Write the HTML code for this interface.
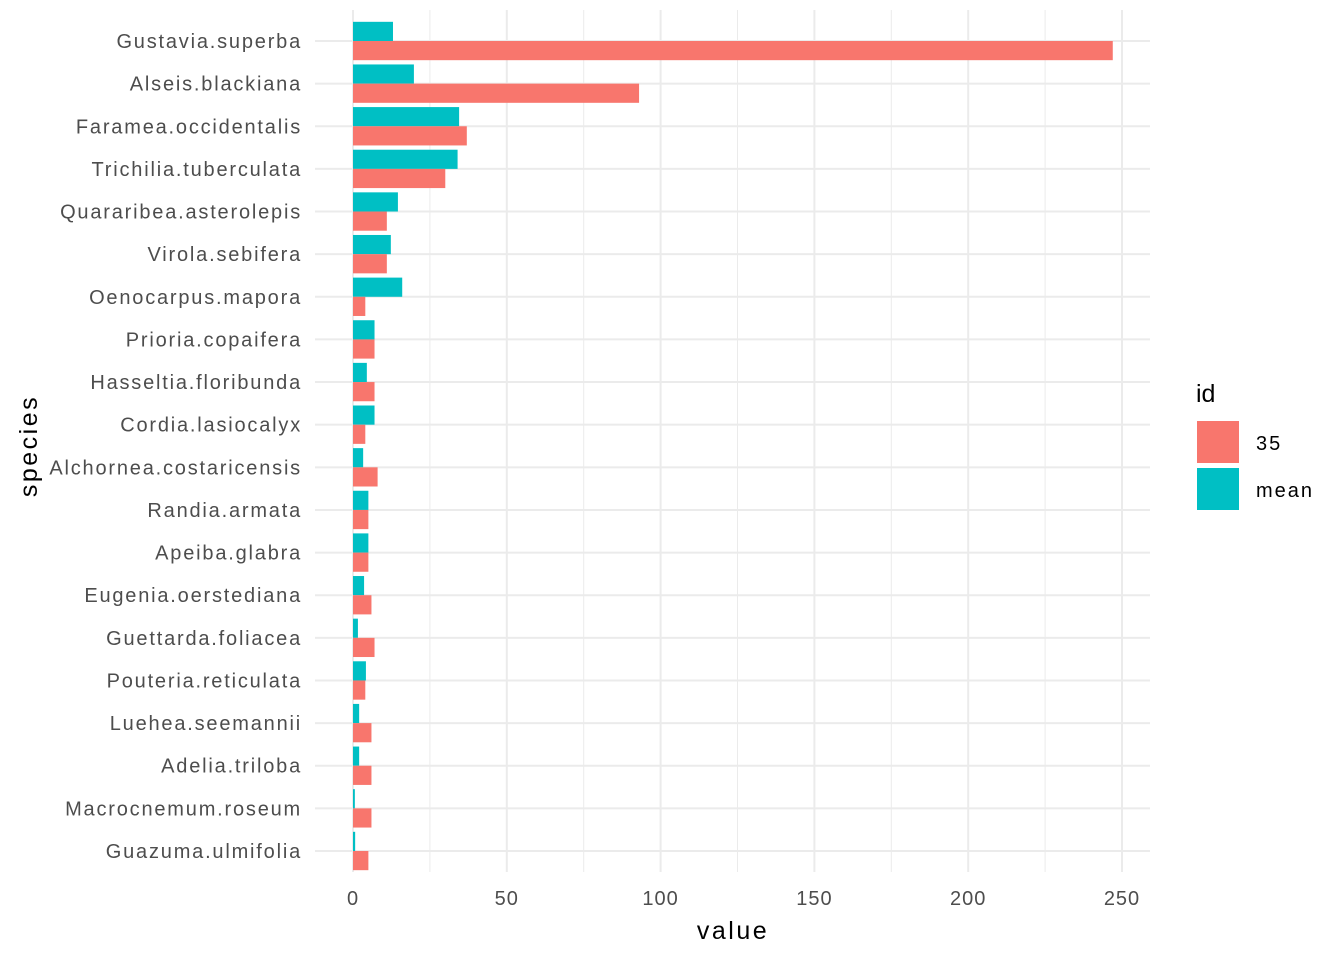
<!DOCTYPE html>
<html><head><meta charset="utf-8"><style>
body{margin:0;background:#fff;}
svg{display:block;font-family:"Liberation Sans",sans-serif;}
</style></head><body>
<svg id="chart" width="1344" height="960"></svg>
<script>
const species=["Gustavia.superba","Alseis.blackiana","Faramea.occidentalis","Trichilia.tuberculata","Quararibea.asterolepis","Virola.sebifera","Oenocarpus.mapora","Prioria.copaifera","Hasseltia.floribunda","Cordia.lasiocalyx","Alchornea.costaricensis","Randia.armata","Apeiba.glabra","Eugenia.oerstediana","Guettarda.foliacea","Pouteria.reticulata","Luehea.seemannii","Adelia.triloba","Macrocnemum.roseum","Guazuma.ulmifolia"];
const values35=[247,93,37,30,11,11,4,7,7,4,8,5,5,6,7,4,6,6,6,5];
const valuesMean=[13,19.8,34.5,34,14.6,12.3,16,7,4.5,7,3.3,5,5,3.6,1.6,4.2,2,2,0.6,0.7];
const xTicks=[0,50,100,150,200,250];
const xMinor=[25,75,125,175,225];

const NS="http://www.w3.org/2000/svg";
const svg=document.getElementById('chart');
function mk(t,a,p){const e=document.createElementNS(NS,t);for(const k in a)e.setAttribute(k,a[k]);(p||svg).appendChild(e);return e;}
const x=v=>353+v*(1122-353)/250;
const step=(851-41)/19;
const y=i=>41+i*step;
const bw=step*0.45;
const L=315,R=1150,T=10,B=872;
xMinor.forEach(v=>{const l=mk('line',{x1:x(v),x2:x(v),y1:T,y2:B,stroke:'#ebebeb','stroke-width':1});
});
xTicks.forEach(v=>{const l=mk('line',{x1:x(v),x2:x(v),y1:T,y2:B,stroke:'#ebebeb','stroke-width':2});

const t=mk('text',{x:x(v),y:905,'text-anchor':'middle','font-size':20,'letter-spacing':1,fill:'#4d4d4d'});t.textContent=v;
});
species.forEach((s,i)=>{const l=mk('line',{x1:L,x2:R,y1:y(i),y2:y(i),stroke:'#ebebeb','stroke-width':2});

const t=mk('text',{x:302,y:y(i)+7,'text-anchor':'end','font-size':20,'letter-spacing':1.8,fill:'#4d4d4d'});t.textContent=s;
});
species.forEach((s,i)=>{
const a=mk('rect',{x:x(0),y:y(i)-bw,width:x(valuesMean[i])-x(0),height:bw,fill:'#00bfc4'});

const b=mk('rect',{x:x(0),y:y(i),width:x(values35[i])-x(0),height:bw,fill:'#f8766d'});
});
let t=mk('text',{x:733,y:939,'text-anchor':'middle','font-size':25,'letter-spacing':2.5,fill:'#000'});t.textContent='value';

t=mk('text',{x:0,y:0,'text-anchor':'middle','font-size':25,'letter-spacing':2.5,fill:'#000',transform:'translate(37,446) rotate(-90)'});t.textContent='species';

t=mk('text',{x:1196,y:402,'font-size':25,fill:'#000'});t.textContent='id';

[['35','#f8766d',421],['mean','#00bfc4',468]].forEach(([n,c,yy])=>{
const r=mk('rect',{x:1197,y:yy,width:42,height:42,fill:c});

const tt=mk('text',{x:1256,y:yy+29,'font-size':20,'letter-spacing':2,fill:'#000'});tt.textContent=n;
});
</script>
</body></html>
